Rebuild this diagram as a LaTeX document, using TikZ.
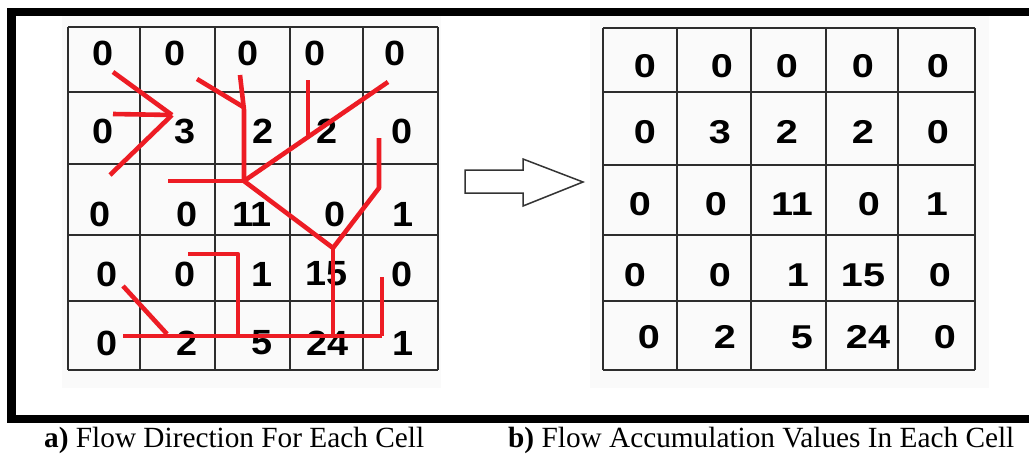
\documentclass[tikz,border=0pt]{standalone}
\usepackage{fontspec}
\setmainfont{Liberation Serif}
\newfontfamily\digfont{Liberation Sans}
\definecolor{penred}{RGB}{237,28,36}
\definecolor{gridcol}{RGB}{45,45,45}
\newcommand{\leftnum}[4]{\node[lnum] (l#1) at (#2,#3) {\scalebox{1.08}[1]{#4}};}
\newcommand{\rightnum}[4]{\node[rnum] (r#1) at (#2,#3) {\scalebox{1.2}[1]{#4}};}
\begin{document}
\begin{tikzpicture}[x=1pt,y=-1pt,
  gridline/.style={draw=gridcol,line width=1.8pt},
  panel/.style={fill=black!2,draw=none},
  frame/.style={fill=black},
  lnum/.style={inner sep=0pt,font=\digfont\bfseries\fontsize{35}{40}\selectfont},
  rnum/.style={inner sep=0pt,font=\digfont\bfseries\fontsize{33}{38}\selectfont},
  flow/.style={draw=penred,line width=4.6pt,line join=round,line cap=butt},
  bigarrow/.style={draw=black!80,line width=1.5pt,fill=white,line join=miter},
  capt/.style={inner sep=0pt,font=\fontsize{29.3}{34}\selectfont}
]
\useasboundingbox (0,0) rectangle (1029,455);
% panels
\path[panel] (62,16) rectangle (441,388);
\path[panel] (590,16) rectangle (989,388);
% frame
\path[frame] (7,8) rectangle (1029,16);
\path[frame] (7,8) rectangle (16,423);
\path[frame] (7,415) rectangle (1029,423);
% left grid
\foreach \x in {68,140,215,290,363,438} \draw[gridline] (\x,27) -- (\x,370);
\foreach \y in {27,92,164,235,301,370} \draw[gridline] (68,\y) -- (438,\y);
% right grid
\foreach \x in {603,677,751,826,898,975} \draw[gridline] (\x,28) -- (\x,370);
\foreach \y in {28,92,165,235,301,370} \draw[gridline] (603,\y) -- (975,\y);
% left numbers
\leftnum{11}{103}{53}{0}\leftnum{12}{175}{53}{0}\leftnum{13}{248}{53}{0}\leftnum{14}{315}{53}{0}\leftnum{15}{395}{53}{0}
\leftnum{21}{103}{131}{0}\leftnum{22}{185}{131}{3}\leftnum{23}{263}{131}{2}\leftnum{24}{327}{131}{2}\leftnum{25}{402}{131}{0}
\leftnum{31}{100}{214}{0}\leftnum{32}{187}{214}{0}\leftnum{33}{252}{214}{11}\leftnum{34}{335}{214}{0}\leftnum{35}{403}{214}{1}
\leftnum{41}{107}{274}{0}\leftnum{42}{185}{274}{0}\leftnum{43}{262}{274}{1}\leftnum{44}{327}{274}{15}\leftnum{45}{402}{274}{0}
\leftnum{51}{107}{343}{0}\leftnum{52}{187}{343}{2}\leftnum{53}{262}{343}{5}\leftnum{54}{328}{343}{24}\leftnum{55}{403}{343}{1}
% right numbers
\rightnum{11}{645}{66}{0}\rightnum{12}{722}{66}{0}\rightnum{13}{787}{66}{0}\rightnum{14}{863}{66}{0}\rightnum{15}{938}{66}{0}
\rightnum{21}{645}{132}{0}\rightnum{22}{720}{132}{3}\rightnum{23}{787}{132}{2}\rightnum{24}{863}{132}{2}\rightnum{25}{938}{132}{0}
\rightnum{31}{640}{204}{0}\rightnum{32}{716}{204}{0}\rightnum{33}{792}{204}{11}\rightnum{34}{869}{204}{0}\rightnum{35}{937}{204}{1}
\rightnum{41}{635}{275}{0}\rightnum{42}{720}{275}{0}\rightnum{43}{798}{275}{1}\rightnum{44}{863}{275}{15}\rightnum{45}{940}{275}{0}
\rightnum{51}{649}{337}{0}\rightnum{52}{725}{337}{2}\rightnum{53}{802}{337}{5}\rightnum{54}{868}{337}{24}\rightnum{55}{945}{337}{0}
% flow directions
\draw[flow] (113,72) -- (172,115);
\draw[flow] (113,114) -- (172,115);
\draw[flow] (110,175) -- (172,115);
\draw[flow] (197,79) -- (245,108);
\draw[flow] (240,75) -- (244,110) -- (244,181);
\draw[flow] (168,181) -- (244,181);
\draw[flow] (244,181) -- (388,82);
\draw[flow] (308,80) -- (308,137);
\draw[flow] (244,181) -- (333,248);
\draw[flow] (379,138) -- (379,188) -- (333,248);
\draw[flow] (333,248) -- (333,336);
\draw[flow] (123,336) -- (382,336);
\draw[flow] (382,277) -- (382,336);
\draw[flow] (188,254) -- (238,254) -- (238,336);
\draw[flow] (123,286) -- (167,334);
% arrow
\draw[bigarrow] (465,170) -- (523,170) -- (523,159) -- (583,182) -- (523,206) -- (523,193) -- (465,193) -- cycle;
% captions
\node[capt,anchor=base west] (capa) at (44,447) {\textbf{a)} Flow Direction For Each Cell};
\node[capt,anchor=base west] (capb) at (508,447) {\textbf{b)} Flow Accumulation Values In Each Cell};
\end{tikzpicture}
\end{document}
